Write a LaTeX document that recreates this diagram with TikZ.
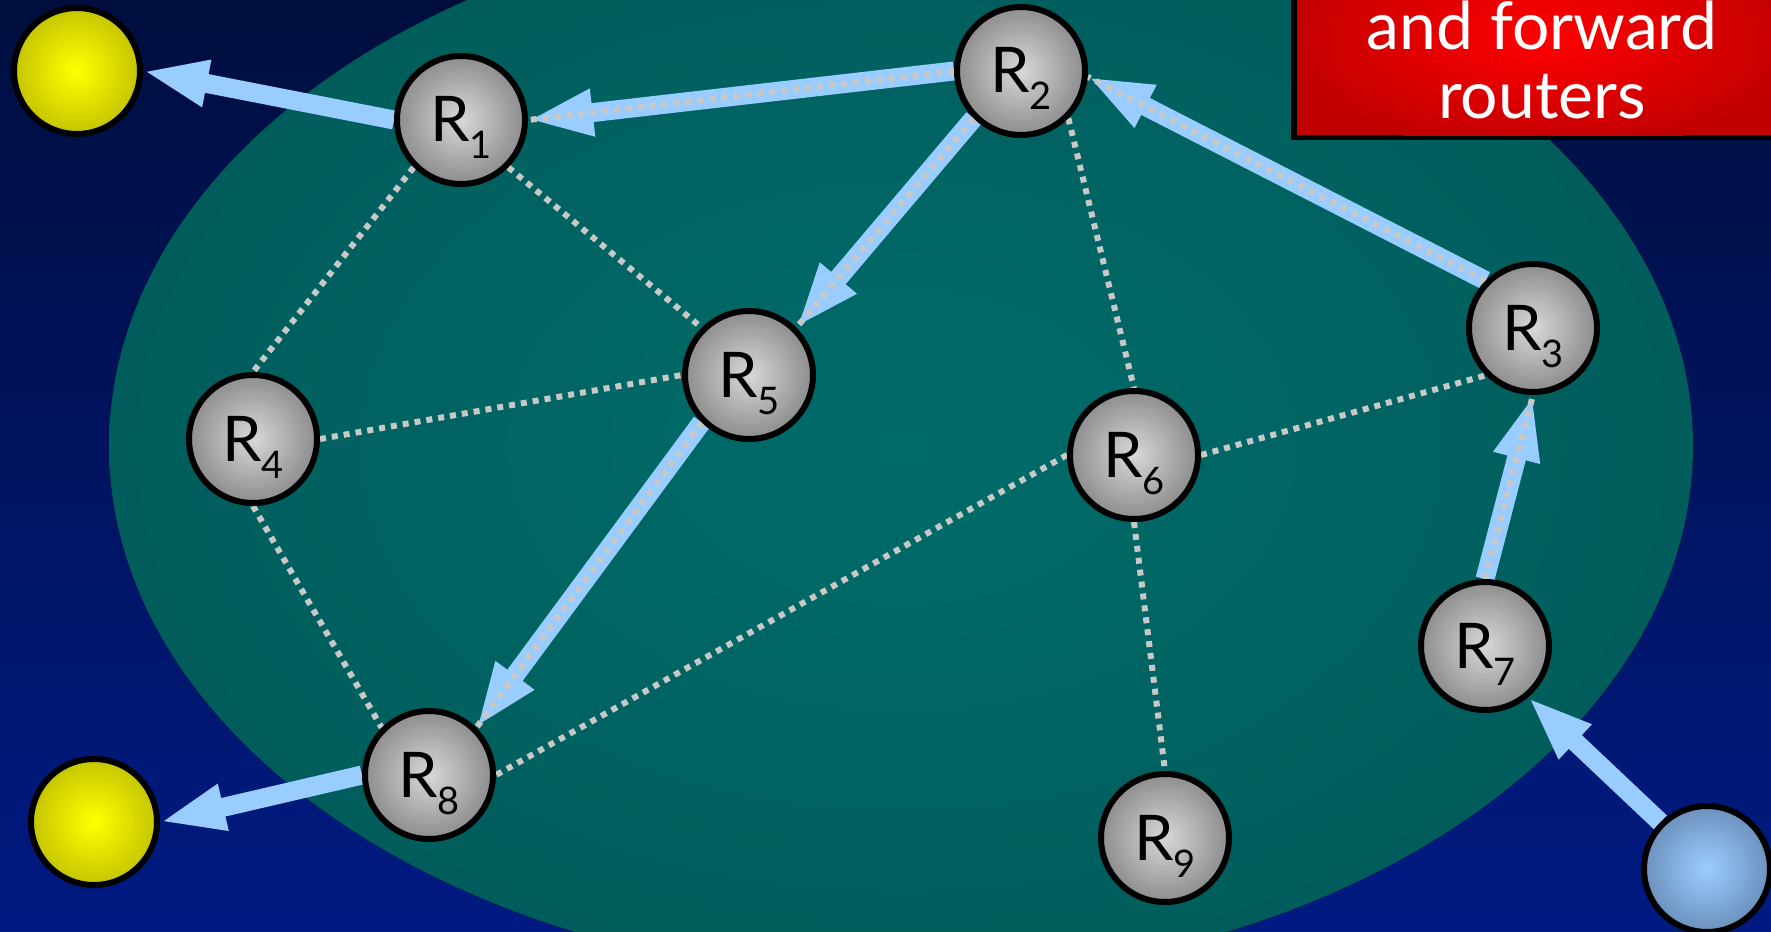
\documentclass[tikz,border=0pt]{standalone}
\usepackage{fontspec}
\setmainfont{Lato}
\usetikzlibrary{arrows.meta}
\definecolor{bgtop}{RGB}{0,14,62}
\definecolor{bgbot}{RGB}{0,26,130}
\definecolor{tealin}{RGB}{0,108,106}
\definecolor{tealout}{RGB}{0,78,78}
\definecolor{arrowblue}{RGB}{153,204,255}
\definecolor{dotgray}{RGB}{200,200,200}
\definecolor{redin}{RGB}{255,0,0}
\definecolor{redout}{RGB}{192,0,0}
\definecolor{grayin}{RGB}{215,215,215}
\definecolor{grayout}{RGB}{140,140,140}
\definecolor{yelin}{RGB}{255,255,0}
\definecolor{yelout}{RGB}{196,196,0}
\definecolor{bluein}{RGB}{153,204,255}
\definecolor{blueout}{RGB}{108,144,188}
\pgfdeclareradialshading{tealsh}{\pgfpoint{0bp}{0bp}}{color(0bp)=(tealin); color(50bp)=(tealout)}
\pgfdeclarelayer{back}
\pgfdeclarelayer{edges}
\pgfsetlayers{back,edges,main}
\newcommand\rlabel[1]{R\raisebox{-17pt}{\fontsize{38}{38}\selectfont #1}}
\tikzset{
  shadeell/.style n args={4}{path picture={
    \fill[#1] (path picture bounding box.south west) rectangle (path picture bounding box.north east);
    \foreach \k in {0,...,23}{
      \pgfmathsetmacro\mixv{100*\k/23}
      \pgfmathsetmacro\rxv{#3*(1-\k/24)}
      \pgfmathsetmacro\ryv{#4*(1-\k/24)}
      \fill[#2!\mixv!#1] (path picture bounding box.center) ellipse [x radius=\rxv pt, y radius=\ryv pt];
    }}}
}
\begin{document}
\begin{tikzpicture}[x=1pt,y=-1pt,
  router/.style={circle, draw=black, line width=6pt, minimum size=128pt, inner sep=0pt,
    shadeell={grayout}{grayin}{66}{66}, font=\fontsize{63}{63}\selectfont, text height=44pt, text depth=0pt},
  ball/.style={circle, draw=black, line width=6pt, minimum size=126pt, inner sep=0pt},
  arr/.style={draw=arrowblue, line width=19pt, -{Triangle[width=43pt,length=65pt]}},
  dots/.style={draw=dotgray, line width=6pt, dash pattern=on 6pt off 6pt},
  boxtext/.style={text=white, font=\fontsize{66}{66}\selectfont, anchor=base, inner sep=0pt}]
\useasboundingbox (0,0) rectangle (1771,931);
\begin{pgfonlayer}{back}
  \fill[top color=bgtop, bottom color=bgbot] (0,0) rectangle (1771,931);
  \fill[shading=tealsh] (901,446) ellipse [x radius=792pt, y radius=533pt];
  \fill[black] (1291,-60) rectangle (1790,140);
  \path[shadeell={redout}{redin}{270}{115}] (1297,-60) rectangle (1790,135);
\end{pgfonlayer}
\node[boxtext] (t1) at (1542,50) {and forward};
\node[boxtext] (t2) at (1542,118) {routers};

\node[router] (R1) at (461,120) {\rlabel{1}};
\node[router] (R2) at (1021,71) {\rlabel{2}};
\node[router] (R3) at (1533,328) {\rlabel{3}};
\node[router] (R4) at (253,439) {\rlabel{4}};
\node[router] (R5) at (749,375) {\rlabel{5}};
\node[router] (R6) at (1134,455) {\rlabel{6}};
\node[router] (R7) at (1485,646) {\rlabel{7}};
\node[router] (R8) at (429,775) {\rlabel{8}};
\node[router] (R9) at (1165,838) {\rlabel{9}};
\node[ball, shadeell={yelout}{yelin}{65}{65}] (Y1) at (77,71) {};
\node[ball, shadeell={yelout}{yelin}{65}{65}] (Y2) at (94,822) {};
\node[ball, shadeell={blueout}{bluein}{65}{65}] (S) at (1707,869) {};

\begin{pgfonlayer}{edges}
  \draw[dots] (R1.south west) -- (R4.north);
  \draw[dots] (R1.south east) -- (R5.north west);
  \draw[dots] (R4.east) -- (R5.west);
  \draw[dots] (R4.south) -- (R8.north west);
  \draw[dots] (R2.south east) -- (R6.north);
  \draw[dots] (R6.east) -- (R3.south west);
  \draw[dots] (R6.west) -- (R8.east);
  \draw[dots] (R6.south) -- (R9.north);
  \draw[arr] (R1.west) -- (Y1.east);
  \draw[arr] (R8.west) -- (Y2.east);
  \draw[arr] (S.north west) -- (R7.-50);
  \draw[arr] (R2.west) -- (R1.east);
  \draw[arr] (R2.south west) -- (R5.north east);
  \draw[arr] (R3.north west) -- (R2.-5);
  \draw[arr] (R5.south west) -- (R8.north east);
  \draw[arr] (R7.north) -- (R3.south);
  \draw[dots] (R2.west) -- (R1.east);
  \draw[dots] (R2.south west) -- (R5.north east);
  \draw[dots] (R3.north west) -- (R2.-5);
  \draw[dots] (R5.south west) -- (R8.north east);
  \draw[dots] (R7.north) -- (R3.south);
\end{pgfonlayer}
\end{tikzpicture}
\end{document}
